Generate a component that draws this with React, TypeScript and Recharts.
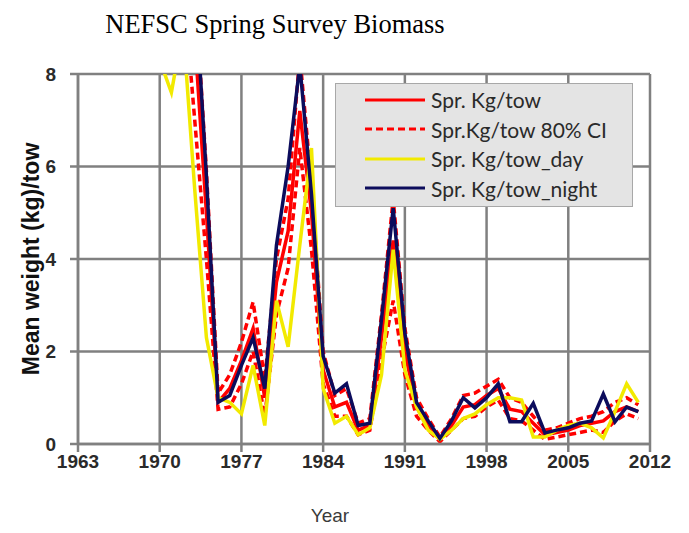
import { CartesianGrid, Legend, Line, LineChart, XAxis, YAxis } from "recharts"

// NEFSC spring survey, mean kg per tow
const years = [
  1970, 1971, 1972, 1973, 1974, 1975, 1976, 1977, 1978, 1979,
  1980, 1981, 1982, 1983, 1984, 1985, 1986, 1987, 1988, 1989,
  1990, 1991, 1992, 1993, 1994, 1995, 1996, 1997, 1998, 1999,
  2000, 2001, 2002, 2003, 2004, 2005, 2006, 2007, 2008, 2009,
  2010, 2011,
]
const sprTow = [
  11, 12, 12, 8.8, 5.0, 0.9, 1.2, 1.8, 2.5, 1.0,
  3.5, 4.6, 7.2, 5.0, 1.6, 0.8, 0.9, 0.3, 0.4, 2.3,
  4.4, 2.0, 0.8, 0.4, 0.1, 0.4, 0.8, 0.85, 1.05, 1.2,
  0.75, 0.7, 0.45, 0.2, 0.25, 0.3, 0.4, 0.45, 0.5, 0.7,
  0.8, 0.7,
]
const ciLower = [
  9, 10, 10, 7.0, 4.0, 0.75, 0.8, 1.3, 2.0, 0.6,
  2.8, 3.8, 6.4, 4.2, 1.3, 0.6, 0.6, 0.2, 0.3, 1.8,
  3.1, 1.5, 0.6, 0.3, 0.05, 0.3, 0.55, 0.6, 0.8, 0.95,
  0.55, 0.5, 0.3, 0.1, 0.15, 0.2, 0.25, 0.3, 0.25, 0.5,
  0.65, 0.55,
]
const ciUpper = [
  13, 14, 14, 10, 5.9, 1.1, 1.5, 2.2, 3.07, 1.4,
  4.0, 5.3, 8.4, 5.6, 2.0, 1.05, 1.2, 0.45, 0.55, 2.8,
  5.3, 2.5, 1.0, 0.55, 0.15, 0.55, 1.05, 1.1, 1.25, 1.4,
  1.0, 0.9, 0.6, 0.3, 0.35, 0.45, 0.55, 0.6, 0.7, 0.9,
  1.0, 0.85,
]
const sprDay = [
  8.3, 7.6, 9.0, 5.5, 2.3, 1.0, 0.9, 0.65, 1.7, 0.4,
  3.1, 2.1, 4.3, 6.4, 1.2, 0.45, 0.6, 0.2, 0.35, 1.5,
  4.2, 1.6, 0.8, 0.3, 0.1, 0.3, 0.55, 0.65, 0.85, 1.0,
  1.0, 0.95, 0.15, 0.15, 0.3, 0.4, 0.45, 0.35, 0.13, 0.7,
  1.3, 0.9,
]
const sprNight = [
  11, 12, 13, 10, 5.8, 0.9, 1.05, 1.7, 2.3, 1.2,
  4.3, 6.0, 8.2, 5.4, 1.9, 1.1, 1.3, 0.4, 0.45, 2.7,
  5.1, 2.4, 0.9, 0.5, 0.12, 0.5, 1.0, 0.78, 1.0, 1.3,
  0.48, 0.48, 0.88, 0.24, 0.3, 0.35, 0.45, 0.5, 1.08, 0.48,
  0.8, 0.7,
]

const xTicks = [1963, 1970, 1977, 1984, 1991, 1998, 2005, 2012]
const yTicks = [0, 2, 4, 6, 8]

const data = years.map((year, i) => ({
  year,
  tow: sprTow[i],
  lo: ciLower[i],
  hi: ciUpper[i],
  day: sprDay[i],
  night: sprNight[i],
}))

const RED = "#ff0000"
const YELLOW = "#f2ea00"
const NAVY = "#0c0c5c"
const GRID = "#808080"

const legendRows = [
  { label: "Spr. Kg/tow", color: RED, dash: undefined },
  { label: "Spr.Kg/tow 80% CI", color: RED, dash: "7 4" },
  { label: "Spr. Kg/tow_day", color: YELLOW, dash: undefined },
  { label: "Spr. Kg/tow_night", color: NAVY, dash: undefined },
]

function LegendBox() {
  return (
    <div
      style={{
        width: 298,
        height: 124,
        boxSizing: "border-box",
        background: "#e4e4e4",
        border: "1px solid #a8a8a8",
        paddingTop: 1,
      }}
    >
      {legendRows.map((r) => (
        <div key={r.label} style={{ display: "flex", alignItems: "center", height: 29.5 }}>
          <svg width={60} height={6} style={{ marginLeft: 29 }}>
            <line x1={0} y1={3} x2={60} y2={3} stroke={r.color} strokeWidth={3} strokeDasharray={r.dash} />
          </svg>
          <span style={{ marginLeft: 6, fontFamily: "Lato", fontSize: 21, color: "#2a2a2a", whiteSpace: "nowrap" }}>
            {r.label}
          </span>
        </div>
      ))}
    </div>
  )
}

const tickStyle = { fontFamily: "Liberation Sans", fontSize: 19, fontWeight: "bold", fill: "#2a2a2a" }

export default function App() {
  return (
    <div style={{ position: "absolute", left: 0, top: 0, width: 689, height: 533, background: "#fff" }}>
      <div
        style={{
          position: "absolute",
          left: 0,
          top: 9,
          width: 550,
          textAlign: "center",
          fontFamily: "Liberation Serif",
          fontSize: 26.5,
          color: "#000",
        }}
      >
        NEFSC Spring Survey Biomass
      </div>
      <LineChart width={689} height={533} data={data} margin={{ top: 74, right: 39, left: 18, bottom: 59 }}>
        <CartesianGrid stroke={GRID} strokeWidth={2.5} />
        <XAxis
          dataKey="year"
          type="number"
          domain={[1963, 2012]}
          ticks={xTicks}
          height={30}
          stroke={GRID}
          strokeWidth={2.5}
          tickSize={8}
          tickMargin={3}
          tick={tickStyle}
          label={{
            content: ({ viewBox }: any) => (
              <text
                x={viewBox.x + viewBox.width / 2 - 34}
                y={viewBox.y + 71}
                textAnchor="middle"
                dominantBaseline="central"
                fontFamily="Liberation Sans"
                fontSize={19}
                fill="#3a3a3a"
              >
                Year
              </text>
            ),
          }}
        />
        <YAxis
          type="number"
          domain={[0, 8]}
          ticks={yTicks}
          allowDataOverflow
          width={60}
          stroke={GRID}
          strokeWidth={2.5}
          tickSize={8}
          tickMargin={14}
          tick={tickStyle}
          label={{
            content: ({ viewBox }: any) => {
              const x = viewBox.x + 13
              const y = viewBox.y + viewBox.height / 2
              return (
                <text
                  x={x}
                  y={y}
                  transform={`rotate(-90 ${x} ${y})`}
                  textAnchor="middle"
                  dominantBaseline="central"
                  fontFamily="Liberation Sans"
                  fontWeight="bold"
                  fontSize={23}
                  fill="#111"
                >
                  Mean weight (kg)/tow
                </text>
              )
            },
          }}
        />
        <Legend
          layout="vertical"
          align="center"
          verticalAlign="middle"
          content={() => <LegendBox />}
          wrapperStyle={{ left: 335, top: 83, width: 298, height: 124 }}
        />
        <Line dataKey="lo" name="Spr.Kg/tow 80% CI" stroke={RED} strokeWidth={3.5} strokeDasharray="7 4" dot={false} isAnimationActive={false} />
        <Line dataKey="hi" name="Spr.Kg/tow 80% CI upper" stroke={RED} strokeWidth={3.5} strokeDasharray="7 4" dot={false} isAnimationActive={false} />
        <Line dataKey="tow" name="Spr. Kg/tow" stroke={RED} strokeWidth={3.5} dot={false} isAnimationActive={false} />
        <Line dataKey="day" name="Spr. Kg/tow_day" stroke={YELLOW} strokeWidth={3.5} dot={false} isAnimationActive={false} />
        <Line dataKey="night" name="Spr. Kg/tow_night" stroke={NAVY} strokeWidth={3.5} dot={false} isAnimationActive={false} />
      </LineChart>
    </div>
  )
}
